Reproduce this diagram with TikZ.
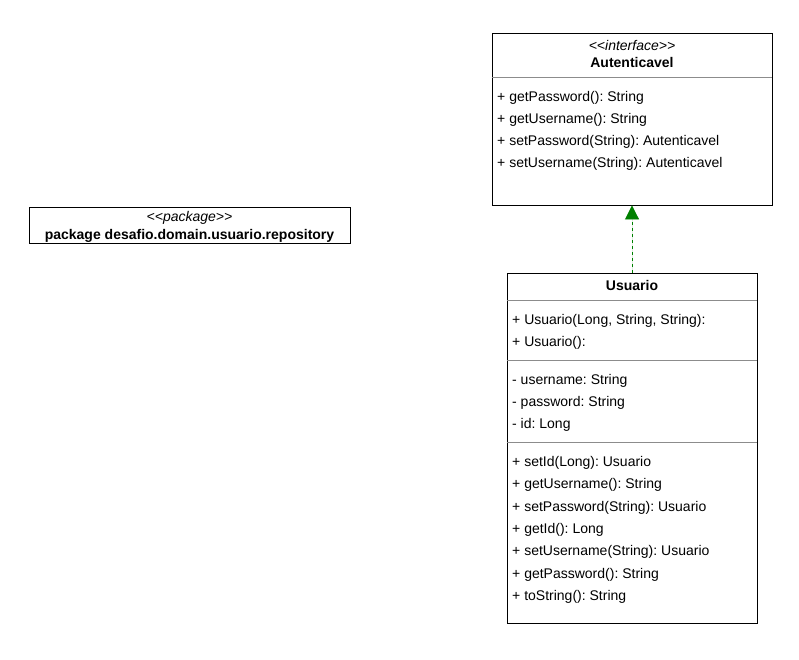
\documentclass[tikz,border=0pt]{standalone}
\usepackage{fontspec}
\setmainfont{Liberation Sans}
\usetikzlibrary{arrows.meta,positioning,calc}
\definecolor{RealizeGreen}{HTML}{008000}
\definecolor{DividerGray}{HTML}{8C8C8C}

\begin{document}
\frenchspacing
\begin{tikzpicture}[
    x=1pt, y=1pt,
    font=\fontsize{14}{16}\selectfont,
    umlbox/.style={draw=black, line width=0.9pt, fill=white, inner sep=0pt},
    member/.style={anchor=west, inner sep=0pt},
    title/.style={inner sep=0pt, font=\fontsize{14}{16}\selectfont\bfseries},
    stereo/.style={inner sep=0pt, font=\fontsize{14}{16}\selectfont\itshape},
    divider/.style={draw=DividerGray, line width=0.9pt},
    realize/.style={-{Triangle[width=14pt, length=14pt]}, draw=RealizeGreen, fill=RealizeGreen, line width=0.9pt, dash pattern=on 3pt off 3pt}
]
  \useasboundingbox (0,0) rectangle (799,-660);

  % =========================================================================
  % PACOTE
  % =========================================================================
  \node[umlbox, minimum width=321pt, minimum height=36pt] (p_repo) at (189.5,-225) {};
  \node[stereo] (p_stereo) at (189.5,-218) {{<}{<}package{>}{>}};
  \node[title] (p_name) at (189.5,-236) {package desafio.domain.usuario.repository};

  % =========================================================================
  % INTERFACE AUTENTICAVEL
  % =========================================================================
  \node[umlbox, minimum width=280pt, minimum height=172pt] (n_autent) at (632,-119) {};
  \node[stereo] (a_stereo) at (632,-45) {{<}{<}interface{>}{>}};
  \node[title] (a_name) at (632,-62) {Autenticavel};
  \draw[divider] ($(n_autent.north west)+(0,-45)$) -- ($(n_autent.north east)+(0,-45)$);

  \node[member] (a_m1) at (497,-98) {+ getPassword(): String};
  \node[member] (a_m2) at (497,-120) {+ getUsername(): String};
  \node[member] (a_m3) at (497,-142) {+ setPassword(String): Autenticavel};
  \node[member] (a_m4) at (497,-164) {+ setUsername(String): Autenticavel};

  % =========================================================================
  % CLASSE USUARIO
  % =========================================================================
  \node[umlbox, minimum width=250pt, minimum height=350pt] (n_usuario) at (632,-448) {};
  \node[title] (u_name) at (632,-285) {Usuario};
  \draw[divider] ($(n_usuario.north west)+(0,-28)$) -- ($(n_usuario.north east)+(0,-28)$);

  % Construtores
  \node[member] (u_c1) at (512,-321) {+ Usuario(Long, String, String):};
  \node[member] (u_c2) at (512,-343) {+ Usuario():};
  \draw[divider] ($(n_usuario.north west)+(0,-88)$) -- ($(n_usuario.north east)+(0,-88)$);

  % Atributos
  \node[member] (u_f1) at (512,-381) {- username: String};
  \node[member] (u_f2) at (512,-403) {- password: String};
  \node[member] (u_f3) at (512,-425) {- id: Long};
  \draw[divider] ($(n_usuario.north west)+(0,-170)$) -- ($(n_usuario.north east)+(0,-170)$);

  % Metodos
  \node[member] (u_m1) at (512,-463) {+ setId(Long): Usuario};
  \node[member] (u_m2) at (512,-485) {+ getUsername(): String};
  \node[member] (u_m3) at (512,-508) {+ setPassword(String): Usuario};
  \node[member] (u_m4) at (512,-530) {+ getId(): Long};
  \node[member] (u_m5) at (512,-552) {+ setUsername(String): Usuario};
  \node[member] (u_m6) at (512,-575) {+ getPassword(): String};
  \node[member] (u_m7) at (512,-597) {+ toString(): String};

  % Realizacao
  \draw[realize] (n_usuario.north) -- (n_autent.south);

\end{tikzpicture}
\end{document}
